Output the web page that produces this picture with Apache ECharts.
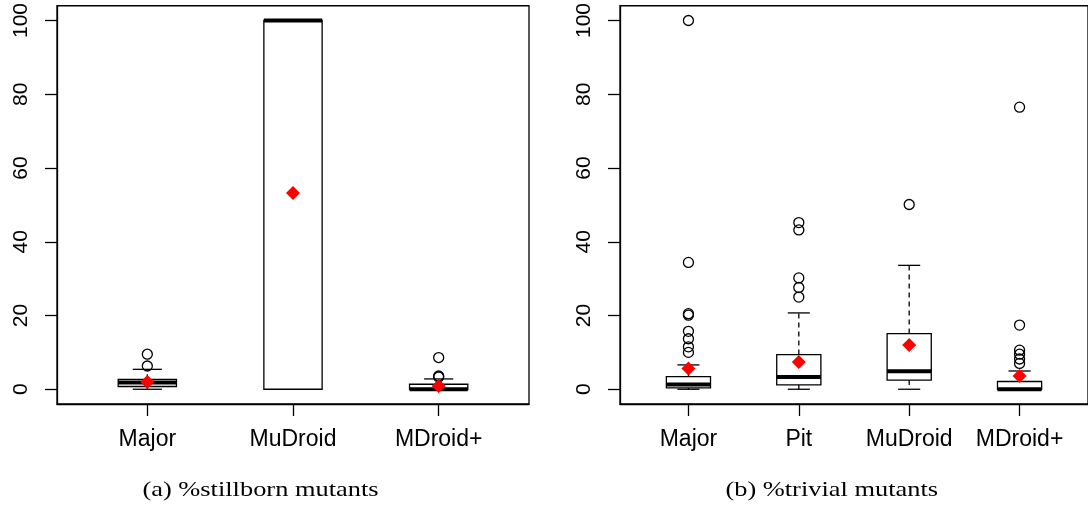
<!DOCTYPE html>
<html>
<head>
<meta charset="utf-8">
<script src="https://cdn.jsdelivr.net/npm/echarts@6/dist/echarts.min.js"></script>
<style>
html,body{margin:0;padding:0;background:#fff;}
#c{width:1088px;height:508px;}
</style>
</head>
<body>
<div id="c"></div>
<script>
// ---- data: panel (a) %stillborn mutants ----
const catsA = ['Major', 'MuDroid', 'MDroid+'];
// [min, Q1, median, Q3, max]
const statsA = [
  [0, 0.75, 1.8, 2.7, 5.4],
  [0, 0, 100, 100, 100],
  [0, 0, 0, 1.35, 2.8]
];
const outliersA = [
  [9.5, 6.3],
  [],
  [3.3, 3.6, 8.6]
];
const meansA = [2.0, 53.2, 0.9];

// ---- data: panel (b) %trivial mutants ----
const catsB = ['Major', 'Pit', 'MuDroid', 'MDroid+'];
const statsB = [
  [0, 0.35, 1.3, 3.4, 6.6],
  [0, 1.2, 3.3, 9.4, 20.7],
  [0, 2.5, 4.9, 15.1, 33.6],
  [0, 0, 0, 2.1, 4.95]
];
const outliersB = [
  [100, 34.4, 20.5, 20.1, 15.7, 13.7, 11.5, 10.0],
  [45.2, 43.2, 30.2, 27.6, 25.0],
  [50.1],
  [76.5, 17.4, 10.6, 9.5, 8.2, 7.0]
];
const meansB = [5.6, 7.4, 12.0, 3.6];

const yTicks = [0, 20, 40, 60, 80, 100];
const captionA = '(a) %stillborn mutants';
const captionB = '(b) %trivial mutants';

// ---- build ----
function boxData(stats) { return stats.map((s, i) => [i + 1].concat(s)); }
function outlierData(out) {
  const d = [];
  out.forEach((arr, i) => arr.forEach(v => d.push([i + 1, v])));
  return d;
}
function meanData(m) { return m.map((v, i) => [i + 1, v]); }

const LW = 1.3;
function renderBox(params, api) {
  const x = api.value(0);
  const v = [1, 2, 3, 4, 5].map(i => api.value(i));
  const hw = api.size([0.2, 0])[0];
  const sw = api.size([0.1, 0])[0];
  const cx = api.coord([x, v[0]])[0];
  const y = v.map(val => api.coord([x, val])[1]);
  const dashed = { stroke: '#000', lineWidth: LW, lineDash: [5, 4] };
  const solid = { stroke: '#000', lineWidth: LW };
  return {
    type: 'group',
    children: [
      { type: 'line', shape: { x1: cx, y1: y[3], x2: cx, y2: y[4] }, style: dashed },
      { type: 'line', shape: { x1: cx, y1: y[1], x2: cx, y2: y[0] }, style: dashed },
      { type: 'line', shape: { x1: cx - sw, y1: y[4], x2: cx + sw, y2: y[4] }, style: solid },
      { type: 'line', shape: { x1: cx - sw, y1: y[0], x2: cx + sw, y2: y[0] }, style: solid },
      { type: 'rect', shape: { x: cx - hw, y: y[3], width: 2 * hw, height: y[1] - y[3] },
        style: { fill: '#fff', stroke: '#000', lineWidth: LW } },
      { type: 'line', shape: { x1: cx - hw, y1: y[2], x2: cx + hw, y2: y[2] },
        style: { stroke: '#000', lineWidth: 4 } }
    ]
  };
}

const gridTop = 5, gridH = 399;
const grids = [
  { left: 57, top: gridTop, width: 472, height: gridH, show: true, borderColor: '#000', borderWidth: LW, backgroundColor: 'transparent' },
  { left: 620, top: gridTop, width: 471, height: gridH, show: true, borderColor: '#000', borderWidth: LW, backgroundColor: 'transparent' }
];

function xAxisFor(gi, cats) {
  const vals = cats.map((c, i) => i + 1);
  return {
    type: 'value', gridIndex: gi, min: 0.38, max: cats.length + 0.62,
    axisLine: { show: true, onZero: false, lineStyle: { color: '#000', width: LW } },
    axisTick: { show: true, length: 12, customValues: vals, lineStyle: { color: '#000', width: LW } },
    axisLabel: { show: true, customValues: vals, margin: 24, color: '#000',
      fontFamily: 'Liberation Sans', fontSize: 23,
      formatter: v => cats[Math.round(v) - 1] || '' },
    splitLine: { show: false }
  };
}
function yAxisFor(gi) {
  return {
    type: 'value', gridIndex: gi, min: -4, max: 104,
    axisLine: { show: true, onZero: false, lineStyle: { color: '#000', width: LW } },
    axisTick: { show: true, length: 12, customValues: yTicks, lineStyle: { color: '#000', width: LW } },
    axisLabel: { show: true, customValues: yTicks, rotate: 90, margin: 25, color: '#000',
      fontFamily: 'Liberation Sans', fontSize: 21 },
    splitLine: { show: false }
  };
}

function panelSeries(gi, stats, outs, means) {
  return [
    { type: 'custom', xAxisIndex: gi, yAxisIndex: gi, renderItem: renderBox,
      encode: { x: 0, y: [1, 2, 3, 4, 5] }, data: boxData(stats), z: 2, silent: true },
    { type: 'scatter', xAxisIndex: gi, yAxisIndex: gi, data: outlierData(outs),
      symbol: 'circle', symbolSize: 10,
      itemStyle: { color: 'rgba(0,0,0,0)', borderColor: '#000', borderWidth: 1.3, opacity: 1 }, z: 3, silent: true },
    { type: 'scatter', xAxisIndex: gi, yAxisIndex: gi, data: meanData(means),
      symbol: 'diamond', symbolSize: 14, itemStyle: { color: '#ff0000', opacity: 1 }, z: 4, silent: true }
  ];
}

const chart = echarts.init(document.getElementById('c'), null, { renderer: 'canvas' });
chart.setOption({
  backgroundColor: '#fff',
  animation: false,
  grid: grids,
  xAxis: [xAxisFor(0, catsA), xAxisFor(1, catsB)],
  yAxis: [yAxisFor(0), yAxisFor(1)],
  series: panelSeries(0, statsA, outliersA, meansA).concat(panelSeries(1, statsB, outliersB, meansB)),
  graphic: [
    { type: 'text', x: 260.5, y: 490, scaleX: 1.2,
      style: { text: captionA, font: '22px "Liberation Serif"', fill: '#000', textAlign: 'center', textVerticalAlign: 'middle' } },
    { type: 'text', x: 831.7, y: 490, scaleX: 1.2,
      style: { text: captionB, font: '22px "Liberation Serif"', fill: '#000', textAlign: 'center', textVerticalAlign: 'middle' } }
  ]
});
</script>
</body>
</html>
